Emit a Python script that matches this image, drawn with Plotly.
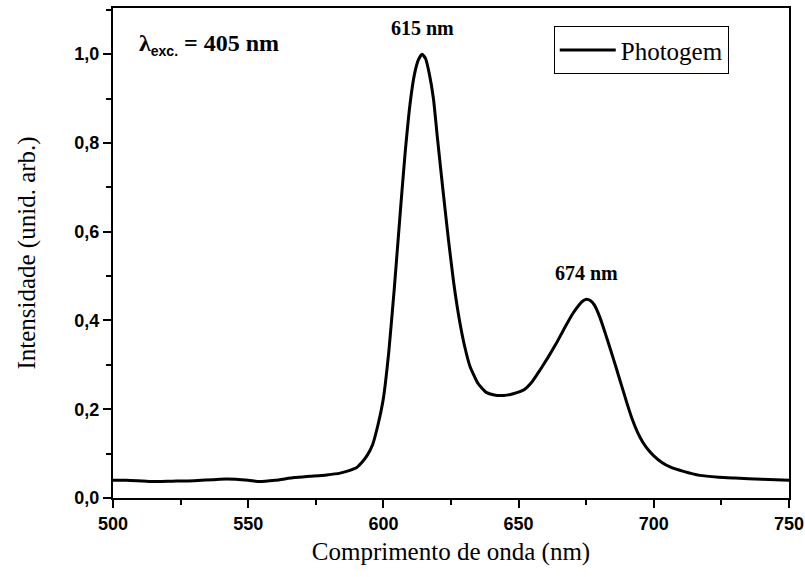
import plotly.graph_objects as go

wavelength = [500, 505, 514, 522, 530, 542, 550, 554, 560, 567, 573, 579, 584, 587, 590, 592, 594, 596, 598, 600,
              602, 604, 606, 608, 610, 611.5, 613, 614.3, 615.6, 617, 618.5, 620, 622, 624, 626, 628, 630, 632, 635, 638, 641, 644.6,
              648, 652, 655, 658, 661, 664, 667, 670, 672.5, 674, 675.2, 676.5, 678, 680, 682, 684, 686, 688, 690, 692, 694,
              696, 698, 700, 703, 706, 711, 717, 724, 730, 740, 750]
intensity = [0.040, 0.040, 0.037, 0.038, 0.039, 0.043, 0.040, 0.037, 0.040, 0.046, 0.049, 0.052, 0.056, 0.061, 0.068, 0.080, 0.096, 0.120, 0.165, 0.225,
             0.330, 0.470, 0.625, 0.775, 0.895, 0.955, 0.988, 1.000, 0.990, 0.955, 0.900, 0.810, 0.695, 0.585, 0.485, 0.405, 0.343, 0.297, 0.258, 0.238, 0.232, 0.231,
             0.235, 0.244, 0.262, 0.289, 0.318, 0.349, 0.383, 0.415, 0.436, 0.445, 0.448, 0.445, 0.435, 0.408, 0.372, 0.334, 0.295, 0.255, 0.215, 0.178, 0.148,
             0.125, 0.108, 0.095, 0.080, 0.070, 0.060, 0.051, 0.047, 0.045, 0.042, 0.040]

peak_labels = ["615 nm", "674 nm"]
peak_x = [614.3, 675.2]
peak_y = [1.0, 0.448]

fig = go.Figure()
fig.add_trace(go.Scatter(x=wavelength, y=intensity, mode="lines", name="Photogem",
                         line=dict(color="black", width=3, shape="spline", smoothing=0.5)))

for lab, px, py in zip(peak_labels, peak_x, peak_y):
    fig.add_annotation(x=px, y=py, text="<b>" + lab + "</b>", showarrow=False, yshift=26,
                       font=dict(family="Liberation Serif", size=20, color="black"))

fig.add_annotation(xref="paper", yref="paper", x=0.035, y=0.925, xanchor="left", yanchor="middle", showarrow=False,
                   text="<b>λ<sub><span style='font-family:Liberation Sans;font-size:14px'>exc.</span></sub> = 405 nm</b>",
                   font=dict(family="Liberation Serif", size=24, color="black"))

axis_common = dict(showline=True, linecolor="black", linewidth=2, mirror=True, ticks="outside",
                   ticklen=8, tickwidth=1.5, tickcolor="black", showgrid=False, zeroline=False, automargin=False,
                   tickfont=dict(family="Liberation Sans", size=18, color="black", weight="bold"),
                   title_font=dict(family="Liberation Serif", size=25, color="black"))

fig.update_xaxes(range=[500, 750], tick0=500, dtick=50,
                 minor=dict(ticks="outside", ticklen=5, tickwidth=1.5, tickcolor="black", dtick=25),
                 title_text="Comprimento de onda (nm)", title_standoff=10, **axis_common)
fig.update_yaxes(range=[0, 1.104], tick0=0, dtick=0.2, tickformat=".1f",
                 minor=dict(ticks="outside", ticklen=5, tickwidth=1.5, tickcolor="black", dtick=0.1),
                 title_text="Intensidade (unid. arb.)", title_standoff=32, **axis_common)

fig.update_layout(
    width=805, height=577, separators=",.",
    margin=dict(l=113, r=16, t=8, b=79),
    plot_bgcolor="white", paper_bgcolor="white",
    showlegend=True,
    legend=dict(x=0.652, y=0.963, xanchor="left", yanchor="top", bordercolor="black", borderwidth=1,
                bgcolor="white", font=dict(family="Liberation Serif", size=25, color="black"),
                itemwidth=56, tracegroupgap=0),
)

fig.write_html("out.html")
